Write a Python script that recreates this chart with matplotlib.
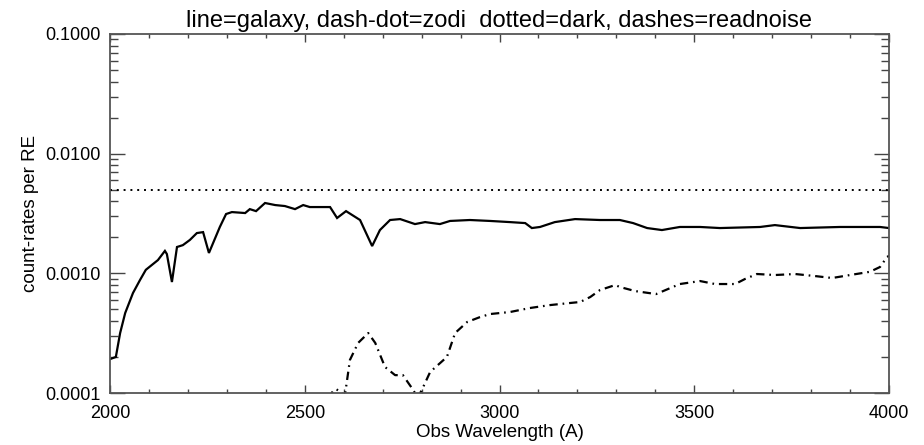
import matplotlib
matplotlib.use("Agg")
import matplotlib.pyplot as plt
from matplotlib.ticker import LogLocator, MultipleLocator, FixedLocator, FuncFormatter

plt.rcParams['font.family'] = ['Liberation Sans', 'DejaVu Sans']
plt.rcParams['lines.scale_dashes'] = False

# galaxy count rate per resolution element
galaxy_wave = [2000, 2015, 2026, 2039, 2059, 2077, 2092, 2123, 2141, 2146, 2159, 2172,
               2187, 2205, 2223, 2239, 2254, 2282, 2298, 2313, 2347, 2359, 2375, 2398,
               2424, 2449, 2475, 2496, 2513, 2565, 2583, 2606, 2642, 2673, 2693, 2719,
               2745, 2783, 2809, 2847, 2873, 2924, 2976, 3027, 3066, 3083, 3104, 3142,
               3194, 3258, 3309, 3343, 3379, 3417, 3463, 3515, 3566, 3669, 3707, 3772,
               3874, 3977, 4000]
galaxy_rate = [1.92e-4, 2.0e-4, 3.17e-4, 4.66e-4, 6.85e-4, 8.79e-4, 1.07e-3, 1.29e-3,
               1.54e-3, 1.45e-3, 8.46e-4, 1.66e-3, 1.72e-3, 1.90e-3, 2.17e-3, 2.21e-3,
               1.48e-3, 2.44e-3, 3.13e-3, 3.25e-3, 3.19e-3, 3.44e-3, 3.31e-3, 3.87e-3,
               3.72e-3, 3.65e-3, 3.44e-3, 3.72e-3, 3.58e-3, 3.58e-3, 2.90e-3, 3.31e-3,
               2.79e-3, 1.69e-3, 2.30e-3, 2.79e-3, 2.84e-3, 2.58e-3, 2.68e-3, 2.58e-3,
               2.74e-3, 2.79e-3, 2.74e-3, 2.68e-3, 2.63e-3, 2.39e-3, 2.44e-3, 2.68e-3,
               2.84e-3, 2.79e-3, 2.79e-3, 2.63e-3, 2.39e-3, 2.30e-3, 2.44e-3, 2.44e-3,
               2.39e-3, 2.44e-3, 2.53e-3, 2.39e-3, 2.44e-3, 2.44e-3, 2.39e-3]

# zodiacal light
zodi_wave = [2560, 2572, 2580, 2590, 2603, 2616, 2637, 2663, 2681, 2706, 2732, 2752,
             2775, 2790, 2800, 2822, 2865, 2886, 2917, 2950, 2976, 3027, 3078, 3130,
             3181, 3207, 3233, 3258, 3297, 3309, 3348, 3402, 3463, 3515, 3553, 3605,
             3630, 3661, 3707, 3759, 3810, 3854, 3900, 3951, 3977, 3995, 4000]
zodi_rate = [0.9e-4, 1.03e-4, 1.08e-4, 1.03e-4, 0.95e-4, 1.89e-4, 2.62e-4, 3.17e-4,
             2.62e-4, 1.65e-4, 1.41e-4, 1.41e-4, 1.10e-4, 0.92e-4, 1.05e-4, 1.50e-4,
             2.0e-4, 3.17e-4, 3.92e-4, 4.31e-4, 4.57e-4, 4.75e-4, 5.13e-4, 5.43e-4,
             5.65e-4, 5.76e-4, 6.34e-4, 7.25e-4, 7.98e-4, 7.69e-4, 7.11e-4, 6.71e-4,
             8.14e-4, 8.62e-4, 8.14e-4, 8.14e-4, 8.96e-4, 9.87e-4, 9.68e-4, 9.87e-4,
             9.49e-4, 9.14e-4, 9.68e-4, 1.03e-3, 1.13e-3, 1.37e-3, 1.40e-3]

# detector dark current (flat)
dark_wave = [2000, 4000]
dark_rate = [0.005, 0.005]

fig = plt.figure(figsize=(9.24, 4.45), dpi=100)
ax = fig.add_axes([110 / 924, 1 - 393 / 445, 779 / 924, 359 / 445])

ax.plot(galaxy_wave, galaxy_rate, color='black', lw=1.6, solid_joinstyle='miter')
ax.plot(zodi_wave, zodi_rate, color='black', lw=1.6, linestyle=(0, (6, 3.5, 1.2, 3.5)))
ax.plot(dark_wave, dark_rate, color='black', lw=1.4, linestyle=(0, (1.4, 3.5)))

ax.set_yscale('log')
ax.set_xlim(2000, 4000)
ax.set_ylim(1e-4, 0.1)

ax.xaxis.set_major_locator(MultipleLocator(500))
ax.xaxis.set_minor_locator(MultipleLocator(100))
ax.yaxis.set_major_locator(FixedLocator([1e-4, 1e-3, 1e-2, 1e-1]))
ax.yaxis.set_minor_locator(LogLocator(base=10, subs=range(2, 10)))
ax.yaxis.set_major_formatter(FuncFormatter(lambda v, p: f'{v:.4f}'))
ax.xaxis.set_major_formatter(FuncFormatter(lambda v, p: f'{v:.0f}'))

ax.tick_params(which='both', direction='in', top=True, right=True, labelsize=13,
               color='#444444', width=1)
ax.tick_params(axis='y', which='major', length=11, pad=7)
ax.tick_params(axis='y', which='minor', length=5.5)
ax.tick_params(axis='x', which='major', length=6, pad=9)
ax.tick_params(axis='x', which='minor', length=3)
for s in ax.spines.values():
    s.set_color('#555555')
    s.set_linewidth(1.3)

ax.set_title('line=galaxy, dash-dot=zodi  dotted=dark, dashes=readnoise', fontsize=17, pad=5)
ax.set_xlabel('Obs Wavelength (A)', fontsize=13.5, labelpad=1)
ax.set_ylabel('count-rates per RE', fontsize=13.5, labelpad=4)

fig.savefig('out.png', dpi=100)
